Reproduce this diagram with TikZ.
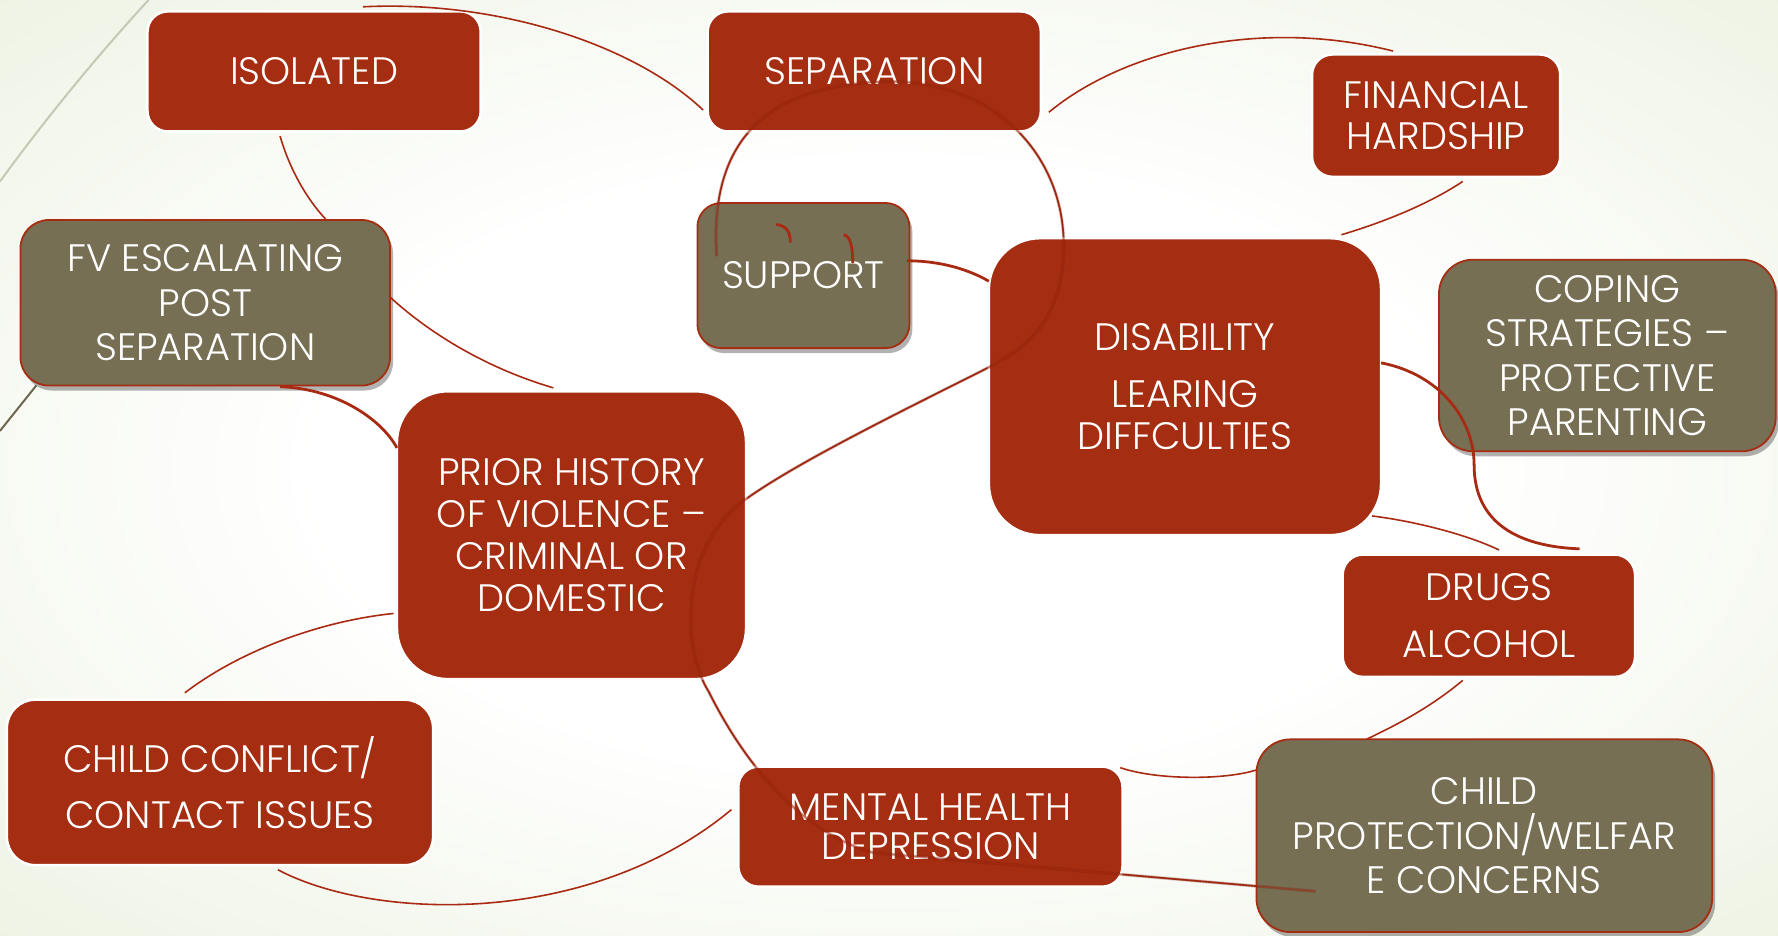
\documentclass[tikz,border=0pt]{standalone}
\usepackage{fontspec}
\setmainfont{Poppins}[UprightFont={* Light}]
\usetikzlibrary{calc,shadows}
\definecolor{myred}{RGB}{165,45,17}
\definecolor{mygray}{RGB}{119,111,84}
\definecolor{lnred}{RGB}{168,42,18}
\definecolor{dkred}{RGB}{110,22,4}
\definecolor{bgg}{RGB}{222,231,200}
\definecolor{bgm}{RGB}{238,243,228}
\definecolor{decog}{RGB}{196,200,180}
\definecolor{decod}{RGB}{110,105,80}
\pgfdeclareradialshading{bgshade}{\pgfpoint{0bp}{0bp}}{color(0bp)=(white); color(16bp)=(white); color(36bp)=(bgm); color(52bp)=(bgg); color(75bp)=(bgg)}
\begin{document}
\begin{tikzpicture}[x=0.02cm,y=-0.02cm,
  box/.style={rectangle, inner sep=0pt, outer sep=0pt, align=center, text=white,
    font=\fontsize{19.2}{22.3}\selectfont},
  redbox/.style={box, fill=myred, draw=white, line width=1.3pt},
  graybox/.style={box, fill=mygray, draw=myred, line width=0.9pt,
    drop shadow={shadow xshift=1.5pt, shadow yshift=-2.5pt, opacity=0.3, fill=black}},
  conn/.style={draw=lnred, line width=0.8pt},
  connb/.style={draw=lnred, line width=1.4pt},
  deco/.style={line width=1pt}]
\shade[shading=bgshade] (0,0) rectangle (1568,825);
\useasboundingbox (0,0) rectangle (1568,825);
\draw[deco, draw=decog] (0,160) .. controls (40,105) and (85,50) .. (131,0);
\draw[deco, draw=decod] (0,380) -- (32,340);

% big loop, under boxes
\def\looppath{(632,226) .. controls (625,120) and (680,75) .. (780,72)
  .. controls (880,70) and (940,140) .. (938,220)
  .. controls (936,290) and (900,310) .. (860,330)
  .. controls (780,370) and (700,410) .. (658,440)
  .. controls (600,480) and (600,570) .. (625,610)
  .. controls (660,680) and (710,735) .. (770,752)
  -- (1160,786)}
\draw[conn] \looppath;

% boxes
\node[redbox, rounded corners=0.36cm, minimum width=5.88cm, minimum height=2.12cm] (iso) at (277,63) {ISOLATED};
\node[redbox, rounded corners=0.36cm, minimum width=5.88cm, minimum height=2.12cm] (sep) at (771,63) {SEPARATION};
\node[redbox, rounded corners=0.36cm, minimum width=4.38cm, minimum height=2.16cm] (fin) at (1266.5,102) {FINANCIAL\\[-2pt]HARDSHIP};
\node[graybox, rounded corners=0.5cm, minimum width=6.52cm, minimum height=2.92cm] (fv) at (181,267) {FV ESCALATING\\POST\\SEPARATION};
\node[graybox, rounded corners=0.42cm, minimum width=3.74cm, minimum height=2.56cm] (sup) at (708.5,243) {SUPPORT};
\node[redbox, rounded corners=0.9cm, minimum width=6.92cm, minimum height=5.24cm] (dis) at (1045,341) {DISABILITY\\[6pt]LEARING\\[-1pt]DIFFCULTIES};
\node[graybox, rounded corners=0.6cm, minimum width=5.94cm, minimum height=3.38cm] (cop) at (1417.5,313.5) {COPING\\STRATEGIES --\\PROTECTIVE\\PARENTING};
\node[redbox, rounded corners=0.9cm, minimum width=6.16cm, minimum height=5.08cm] (pri) at (504,472) {PRIOR HISTORY\\[-1.2pt]OF VIOLENCE --\\[-1.2pt]CRIMINAL OR\\[-1.2pt]DOMESTIC};
\node[redbox, rounded corners=0.36cm, minimum width=5.16cm, minimum height=2.16cm] (dru) at (1313,543) {DRUGS\\[6pt]ALCOHOL};
\node[redbox, rounded corners=0.5cm, minimum width=7.52cm, minimum height=2.92cm] (cc) at (194,690) {CHILD CONFLICT/\\[6pt]CONTACT ISSUES};
\node[redbox, rounded corners=0.36cm, minimum width=6.78cm, minimum height=2.12cm] (mh) at (820.5,729) {MENTAL HEALTH\\[-2.5pt]DEPRESSION};
\node[graybox, rounded corners=0.6cm, minimum width=8.04cm, minimum height=3.40cm] (cp) at (1309,737) {CHILD\\PROTECTION/WELFAR\\E CONCERNS};

% big loop, over boxes (semi-transparent, darker)
\draw[draw=dkred, line width=1.6pt, opacity=0.25] \looppath;
\draw[draw=lnred, line width=0.8pt, opacity=0.5] \looppath;

% connectors
\draw[conn] ($(iso.north)+(43,-4)$) .. controls (440,0) and (560,40) .. ($(sep.west)+(-4,34)$);
\draw[conn] ($(iso.south)+(-30,4)$) .. controls (255,148) and (270,175) .. ($(fv.north)+(106,-1)$);
\draw[conn] ($(fv.east)+(0,-5)$) .. controls (380,295) and (430,325) .. ($(pri.north)+(-16,-3)$);
\draw[connb] ($(fv.south)+(66,1)$) .. controls (300,343) and (338,372) .. ($(pri.west)+(0,-77)$);
\draw[conn] ($(sep.east)+(7,36)$) .. controls (990,45) and (1110,15) .. ($(fin.north)+(-38,-3)$);
\draw[conn] ($(fin.south)+(23.5,4)$) .. controls (1260,180) and (1220,196) .. ($(dis.north)+(138,-3)$);
\draw[connb] ($(sup.east)+(-2,-13)$) .. controls (830,230) and (855,238) .. ($(dis.west)+(0,-93)$);
\draw[connb] ($(dis.east)+(0,-21)$) .. controls (1270,330) and (1300,370) .. (1300,410)
  .. controls (1300,462) and (1340,482) .. ($(dru.north)+(80,-5)$);
\draw[conn] ($(dis.east)+(-8,114)$) .. controls (1250,460) and (1295,472) .. ($(dru.north)+(9,-4)$);
\draw[conn] ($(dru.south)+(-23,3)$) .. controls (1260,625) and (1230,640) .. ($(cp.north)+(-104,0)$);
\draw[conn] ($(mh.east)+(-2,-52)$) .. controls (1020,688) and (1080,688) .. ($(cp.west)+(0,-58)$);
\draw[conn] ($(cc.north)+(-31,-6)$) .. controls (210,575) and (280,548) .. ($(pri.west)+(-3,69)$);
\draw[conn] ($(cc.south)+(51,4)$) .. controls (330,812) and (520,818) .. ($(mh.west)+(-6,-15)$);
% small hooks inside SUPPORT
\draw[connb] ($(sup.center)+(-24,-45)$) .. controls (694,199) and (697,205) .. (697,214);
\draw[connb] ($(sup.center)+(35.5,-36)$) .. controls (750,208) and (752,218) .. (752,232);
\end{tikzpicture}
\end{document}
